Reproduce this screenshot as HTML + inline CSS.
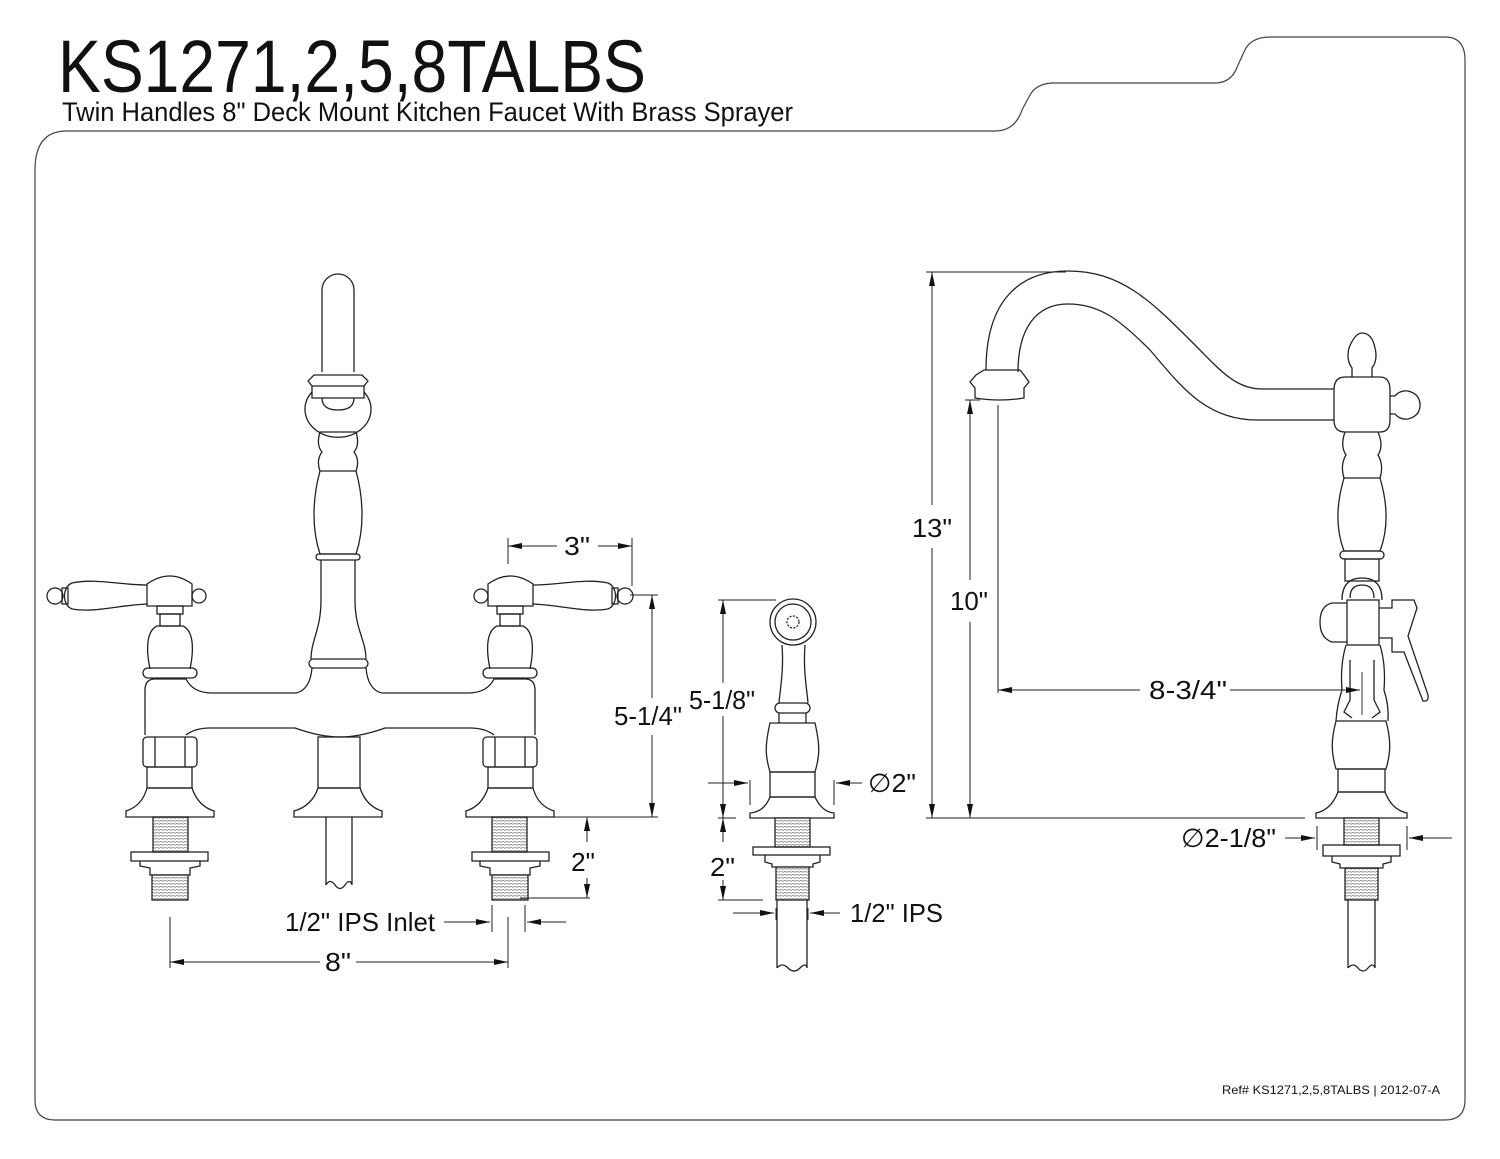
<!DOCTYPE html>
<html><head><meta charset="utf-8"><style>
html,body{margin:0;padding:0;background:#fff;}
svg{display:block;}
text{font-family:"Liberation Sans",sans-serif;fill:#111;}
</style></head><body>
<svg width="1500" height="1159" viewBox="0 0 1500 1159" xmlns="http://www.w3.org/2000/svg">
<defs>
<marker id="ar" viewBox="0 0 14 6" refX="14" refY="3" markerWidth="14" markerHeight="6" markerUnits="userSpaceOnUse" orient="auto-start-reverse"><path d="M0,0 L14,3 L0,6 Z" fill="#111"/></marker>
<pattern id="thr" width="4" height="3" patternUnits="userSpaceOnUse"><rect width="4" height="3" fill="#fff"/><line x1="0" y1="1.5" x2="4" y2="2.2" stroke="#777" stroke-width="0.8"/></pattern>
</defs>

<!-- frame -->
<path d="M35,1100 L35,170 Q35,132 65,131 L995,131 Q1015,131 1022,110 L1030,95 Q1036,84 1052,83 L1215,83 Q1232,83 1238,65 L1244,52 Q1250,37 1270,37 L1445,37 Q1465,37 1465,60 L1465,1100 Q1465,1120 1445,1120 L55,1120 Q35,1120 35,1100 Z" fill="none" stroke="#444" stroke-width="1.2"/>

<text x="58" y="92" font-size="74" textLength="588" lengthAdjust="spacingAndGlyphs">KS1271,2,5,8TALBS</text>
<text x="62" y="121" font-size="27" textLength="731" lengthAdjust="spacingAndGlyphs">Twin Handles 8" Deck Mount Kitchen Faucet With Brass Sprayer</text>
<text x="1222" y="1094" font-size="12" textLength="218" lengthAdjust="spacingAndGlyphs">Ref# KS1271,2,5,8TALBS | 2012-07-A</text>

<g fill="none" stroke="#222" stroke-width="1.3">
<!-- ===== LEFT FAUCET ===== -->
<g id="lh">
 <path d="M147,585 C120,585 95,578 72,583 C62,587 62,605 72,609 C95,613 120,605 147,604"/>
 <rect x="62" y="588" width="6" height="16"/>
 <circle cx="55" cy="596" r="8"/>
 <path d="M147,606 L147,584 Q170,568 192,584 L192,606 Z"/>
 <circle cx="199" cy="596" r="7"/>
 <rect x="157" y="606" width="26" height="8"/>
 <rect x="160" y="614" width="20" height="12"/>
 <path d="M150,669 C145,645 148,630 157,626 L183,626 C192,630 195,645 190,669"/>
 <rect x="143" y="668" width="54" height="10" rx="5"/>
 <rect x="143" y="737" width="54" height="30" rx="4"/>
 <line x1="155" y1="737" x2="155" y2="767"/><line x1="185" y1="737" x2="185" y2="767"/>
 <rect x="147" y="767" width="45" height="21"/>
 <path d="M147,788 L192,788 Q198,806 214,811 L214,817 L126,817 L126,811 Q142,806 147,788 Z"/>
 <rect x="153" y="817" width="35" height="35" fill="url(#thr)"/>
 <rect x="131" y="852" width="77" height="9"/>
 <path d="M140,861 L140,866 L150,868 L150,875 L190,875 L190,868 L200,866 L200,861"/>
 <rect x="152" y="875" width="36" height="25" fill="url(#thr)"/>
</g>
<use href="#lh" transform="translate(680,0) scale(-1,1)"/>
<!-- bridge -->
<path d="M145,735 L145,690 Q145,679 155,679 L186,679 Q193,693 212,693 L296,693 Q310,690 312,668 M366,668 Q368,690 382,693 L468,693 Q487,693 494,679 L525,679 Q535,679 535,690 L535,735 M494,735 Q485,728 470,728 L385,728 Q360,737 340,737 Q320,737 295,728 L210,728 Q195,728 186,735"/>
<!-- center spout -->
<path d="M322,372 L322,290 A16,16 0 0 1 354,290 L354,372"/>
<path d="M312,398 L312,386 L308,381 L314,375 L362,375 L368,381 L364,386 L364,398 Z"/>
<line x1="312" y1="386" x2="364" y2="386"/>
<path d="M312,392 A33,28 0 1 0 364,392"/>
<path d="M322,398 Q322,410 338,410 Q354,410 354,398"/>
<path d="M320,432 Q316,445 322,452 Q316,460 320,471 L356,471 Q360,460 354,452 Q360,445 356,432 Z"/>
<path d="M320,471 C312,500 312,530 320,554 L356,554 C364,530 364,500 356,471"/>
<rect x="316" y="554" width="44" height="6" rx="3"/>
<path d="M321,560 L321,600 C321,630 311,640 311,659 M355,560 L355,600 C355,630 366,640 366,659"/>
<rect x="309" y="659" width="59" height="9" rx="4.5"/>
<rect x="318" y="737" width="42" height="51"/>
<path d="M318,788 L360,788 Q366,806 382,811 L382,817 L294,817 L294,811 Q312,806 318,788 Z"/>
<path d="M326,817 L326,885 M352,817 L352,885 M326,885 Q330,878 335,885 T345,885 T352,885"/>

<!-- ===== SPRAYER ===== -->
<circle cx="793" cy="622" r="23"/><circle cx="793" cy="622" r="18"/><circle cx="793" cy="622" r="6" stroke-dasharray="2 1.5"/>
<path d="M782,645 C784,670 780,690 779,703 M805,645 C803,670 807,690 808,703"/>
<rect x="775" y="703" width="35" height="10" rx="5"/>
<path d="M779,713 L779,723 M806,713 L806,723"/>
<path d="M770,723 L815,723 C820,745 820,755 815,772 L770,772 C765,755 765,745 770,723 Z"/>
<rect x="770" y="772" width="45" height="25"/>
<path d="M770,797 L815,797 Q822,812 834,813 L834,818 L750,818 L750,813 Q764,812 770,797 Z"/>
<rect x="775" y="818" width="35" height="29" fill="url(#thr)"/>
<rect x="753" y="847" width="77" height="8"/>
<path d="M765,855 L765,862 L772,864 L772,867 L813,867 L813,864 L820,862 L820,855"/>
<rect x="776" y="867" width="33" height="33" fill="url(#thr)"/>
<path d="M777,900 L777,968 M807,900 L807,968 M777,968 Q782,962 788,968 T800,968 T807,968"/>

<!-- ===== RIGHT FAUCET ===== -->
<path d="M986,370 C986,300 1020,271 1068,271 C1120,271 1150,300 1190,340 C1220,370 1235,389 1262,389 L1334,389"/>
<path d="M1018,372 C1018,330 1035,304 1068,304 C1100,304 1120,320 1150,350 C1180,385 1205,420 1257,420 L1334,420"/>
<path d="M975,398 L975,388 L970,382 L976,375 L984,370 L1020,370 L1024,375 L1029,382 L1024,388 L1024,398 Q1000,402 975,398 Z"/>
<path d="M1334,390 Q1334,377 1345,377 L1380,377 Q1390,377 1390,390 L1390,420 Q1390,432 1380,432 L1345,432 Q1334,432 1334,420 Z"/>
<path d="M1352,377 L1352,368 Q1346,360 1349,348 Q1355,333 1362,333 Q1372,333 1375,348 Q1378,360 1372,368 L1372,377"/>
<path d="M1390,396 L1395,396 Q1400,390 1408,391 Q1420,394 1420,405 Q1420,416 1408,419 Q1400,420 1395,414 L1390,414"/>
<path d="M1345,432 Q1340,446 1346,455 Q1340,465 1344,478 L1380,478 Q1384,465 1378,455 Q1384,446 1378,432"/>
<path d="M1344,478 C1336,505 1336,530 1344,551 L1380,551 C1388,530 1388,505 1380,478"/>
<rect x="1340" y="551" width="44" height="8" rx="4"/>
<rect x="1345" y="559" width="34" height="22"/>
<path d="M1342,600 Q1342,578 1362,578 Q1382,578 1382,600"/>
<path d="M1350,598 Q1350,585 1362,585 Q1374,585 1374,598"/>
<rect x="1347" y="600" width="32" height="45"/>
<path d="M1347,603 L1332,603 Q1320,606 1320,622 Q1320,638 1332,642 L1347,642"/>
<path d="M1379,608 L1392,608 L1392,600 L1414,600 L1417,608 L1408,636 L1428,695 Q1429,702 1423,701 L1404,652 L1392,652 L1392,638 L1379,638"/>
<path d="M1346,645 Q1340,665 1342,690 Q1337,705 1336,721 M1380,645 Q1386,665 1384,690 Q1389,705 1388,721"/>
<path d="M1350,660 L1350,700 L1344,712 L1352,718 M1374,660 L1374,700 L1380,712 L1372,718"/>
<line x1="1362" y1="672" x2="1362" y2="715" stroke-width="0.9"/>
<path d="M1336,721 L1386,721 C1391,740 1391,752 1386,769 L1336,769 C1331,752 1331,740 1336,721 Z"/>
<rect x="1338" y="769" width="47" height="23"/>
<path d="M1338,792 L1385,792 Q1392,810 1407,813 L1407,818 L1316,818 L1316,813 Q1331,810 1338,792 Z"/>
<rect x="1344" y="818" width="35" height="27" fill="url(#thr)"/>
<rect x="1323" y="845" width="77" height="11"/>
<path d="M1332,856 L1332,862 L1340,864 L1340,868 L1383,868 L1383,864 L1391,862 L1391,856"/>
<rect x="1345" y="868" width="33" height="32" fill="url(#thr)"/>
<path d="M1348,900 L1348,968 M1375,900 L1375,968 M1348,968 Q1353,962 1358,968 T1368,968 T1375,968"/>
</g>

<!-- ===== DIMENSIONS ===== -->
<g fill="none" stroke="#222" stroke-width="1">
 <!-- 3" -->
 <line x1="508" y1="538" x2="508" y2="564"/><line x1="632" y1="538" x2="632" y2="586"/>
 <line x1="557" y1="546" x2="508" y2="546" marker-end="url(#ar)"/><line x1="598" y1="546" x2="632" y2="546" marker-end="url(#ar)"/>
 <!-- 5-1/4" -->
 <line x1="630" y1="595" x2="658" y2="595"/><line x1="535" y1="817" x2="658" y2="817"/>
 <line x1="652" y1="698" x2="652" y2="595" marker-end="url(#ar)"/><line x1="652" y1="735" x2="652" y2="817" marker-end="url(#ar)"/>
 <!-- 2" left -->
 <line x1="587" y1="842" x2="587" y2="817" marker-end="url(#ar)"/><line x1="587" y1="878" x2="587" y2="898" marker-end="url(#ar)"/>
 <line x1="520" y1="898" x2="590" y2="898"/>
 <!-- 1/2 IPS inlet -->
 <line x1="492" y1="905" x2="492" y2="932"/><line x1="525" y1="905" x2="525" y2="932"/>
 <line x1="444" y1="922" x2="490" y2="922" marker-end="url(#ar)"/><line x1="566" y1="922" x2="527" y2="922" marker-end="url(#ar)"/>
 <!-- 8" -->
 <line x1="170" y1="917" x2="170" y2="968"/><line x1="508" y1="917" x2="508" y2="968"/>
 <line x1="320" y1="962" x2="170" y2="962" marker-end="url(#ar)"/><line x1="356" y1="962" x2="508" y2="962" marker-end="url(#ar)"/>
 <!-- 5-1/8" -->
 <line x1="718" y1="600" x2="776" y2="600"/>
 <line x1="723" y1="683" x2="723" y2="600" marker-end="url(#ar)"/><line x1="723" y1="716" x2="723" y2="818" marker-end="url(#ar)"/>
 <line x1="718" y1="818" x2="736" y2="818"/>
 <!-- 2" spray -->
 <line x1="723" y1="842" x2="723" y2="818" marker-end="url(#ar)"/><line x1="723" y1="880" x2="723" y2="900" marker-end="url(#ar)"/>
 <line x1="718" y1="900" x2="763" y2="900"/>
 <!-- dia 2 -->
 <line x1="750" y1="780" x2="750" y2="805"/><line x1="834" y1="780" x2="834" y2="805"/>
 <line x1="708" y1="783" x2="748" y2="783" marker-end="url(#ar)"/><line x1="862" y1="783" x2="836" y2="783" marker-end="url(#ar)"/>
 <!-- 1/2 IPS -->
 <line x1="776" y1="908" x2="776" y2="920"/><line x1="808" y1="908" x2="808" y2="920"/>
 <line x1="733" y1="913" x2="774" y2="913" marker-end="url(#ar)"/><line x1="840" y1="913" x2="810" y2="913" marker-end="url(#ar)"/>
 <!-- 13" -->
 <line x1="926" y1="272" x2="1066" y2="272"/>
 <line x1="932" y1="505" x2="932" y2="272" marker-end="url(#ar)"/><line x1="932" y1="548" x2="932" y2="818" marker-end="url(#ar)"/>
 <line x1="926" y1="818" x2="1305" y2="818"/>
 <!-- 10" -->
 <line x1="965" y1="400" x2="980" y2="400"/>
 <line x1="970" y1="580" x2="970" y2="400" marker-end="url(#ar)"/><line x1="970" y1="622" x2="970" y2="818" marker-end="url(#ar)"/>
 <!-- 8-3/4 -->
 <line x1="998" y1="405" x2="998" y2="693"/>
 <line x1="1140" y1="690" x2="998" y2="690" marker-end="url(#ar)"/><line x1="1230" y1="690" x2="1360" y2="690" marker-end="url(#ar)"/>
 <!-- dia 2-1/8 -->
 <line x1="1317" y1="826" x2="1317" y2="850"/><line x1="1407" y1="826" x2="1407" y2="850"/>
 <line x1="1285" y1="838" x2="1315" y2="838" marker-end="url(#ar)"/><line x1="1452" y1="838" x2="1409" y2="838" marker-end="url(#ar)"/>
</g>

<g font-size="26">
 <text x="564" y="555" textLength="26" lengthAdjust="spacingAndGlyphs">3"</text>
 <text x="614" y="725" textLength="68" lengthAdjust="spacingAndGlyphs">5-1/4"</text>
 <text x="571" y="871" textLength="24" lengthAdjust="spacingAndGlyphs">2"</text>
 <text x="285" y="931" textLength="150" lengthAdjust="spacingAndGlyphs">1/2" IPS Inlet</text>
 <text x="325" y="971" textLength="26" lengthAdjust="spacingAndGlyphs">8"</text>
 <text x="689" y="709" textLength="66" lengthAdjust="spacingAndGlyphs">5-1/8"</text>
 <text x="710" y="876" textLength="25" lengthAdjust="spacingAndGlyphs">2"</text>
 <text x="868" y="792" textLength="48" lengthAdjust="spacingAndGlyphs">∅2"</text>
 <text x="850" y="922" textLength="93" lengthAdjust="spacingAndGlyphs">1/2" IPS</text>
 <text x="912" y="537" textLength="40" lengthAdjust="spacingAndGlyphs">13"</text>
 <text x="950" y="610" textLength="38" lengthAdjust="spacingAndGlyphs">10"</text>
 <text x="1149" y="699" textLength="78" lengthAdjust="spacingAndGlyphs">8-3/4"</text>
 <text x="1181" y="847" textLength="95" lengthAdjust="spacingAndGlyphs">∅2-1/8"</text>
</g>
</svg>
</body></html>
